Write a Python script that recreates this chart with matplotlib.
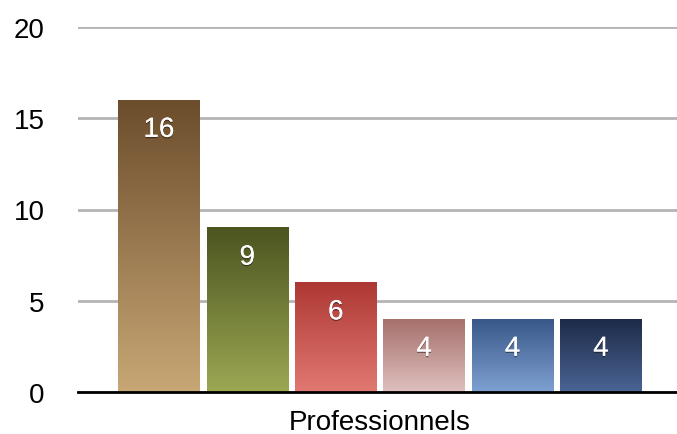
import numpy as np
import matplotlib.pyplot as plt
import matplotlib.patheffects as pe
from matplotlib.colors import LinearSegmentedColormap

plt.rcParams['font.family'] = ['Liberation Sans', 'DejaVu Sans']

category = 'Professionnels'
values = [16, 9, 6, 4, 4, 4]
# top / bottom colour of each bar's gradient
tops = ['#6c4d2c', '#4c5420', '#ad3833', '#a6706c', '#385889', '#1d2b48']
bottoms = ['#c8a775', '#9ca853', '#e27872', '#dec0be', '#7fa0d2', '#4b6494']

fig = plt.figure(figsize=(6.77, 4.35), dpi=100)
ax = fig.add_axes([78 / 677, 1 - 393 / 435, 1 - 78 / 677, (393 - 28) / 435])

x = np.arange(len(values))
bars = ax.bar(x, values, width=0.92, color='none', zorder=3)

grad = np.linspace(0, 1, 256).reshape(-1, 1)
for b, top, bot in zip(bars, tops, bottoms):
    cmap = LinearSegmentedColormap.from_list('g', [bot, top])
    x0, w, h = b.get_x(), b.get_width(), b.get_height()
    ax.imshow(grad, cmap=cmap, origin='lower', aspect='auto',
              extent=(x0, x0 + w, 0, h), zorder=3)
    ax.annotate(str(int(h)), (x0 + w / 2, h), xytext=(0, -21.5),
                textcoords='offset points', ha='center', va='center',
                color='white', fontsize=20, zorder=5,
                path_effects=[pe.withSimplePatchShadow(offset=(0, -1), shadow_rgbFace='black', alpha=0.45),
                              pe.Normal()])

ax.set_xlim(-0.915, 5.86)
ax.set_ylim(0, 20)
ax.set_yticks([0, 5, 10, 15, 20])
ax.set_xticks([2.5])
ax.set_xticklabels([category])
ax.tick_params(axis='both', length=0, labelsize=20)
ax.tick_params(axis='y', pad=24)
ax.tick_params(axis='x', pad=12)
ax.yaxis.grid(True, color='#b4b4b4', linewidth=2, zorder=1)
ax.set_axisbelow(True)
for s in ['top', 'right', 'left']:
    ax.spines[s].set_visible(False)
ax.spines['bottom'].set_linewidth(2)
ax.spines['bottom'].set_zorder(6)

fig.savefig('out.png', dpi=100)
